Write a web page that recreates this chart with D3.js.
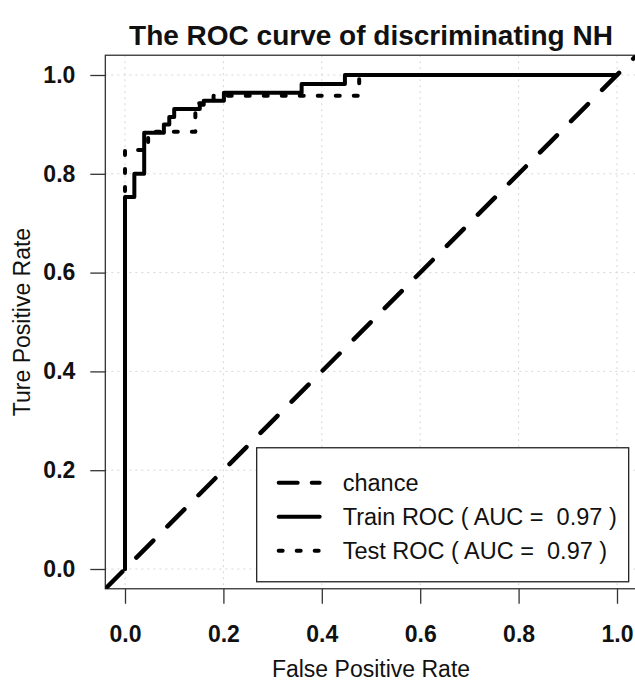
<!doctype html>
<html lang="en">
<head>
<meta charset="utf-8" />
<title>ROC curve</title>
<script src="https://cdn.jsdelivr.net/npm/d3@7"></script>
<style>
    html, body { margin: 0; background: #fff; }
    svg text { font-family: "Liberation Sans", Arial, sans-serif; fill: #111; }
</style>
</head>
<body>
<div id="chart"></div>
<script>
// ROC step corners (fpr, tpr)
const trainFPR = [0, 0, 0.019, 0.039, 0.079, 0.09, 0.1, 0.152, 0.16, 0.201, 0.359, 0.447, 1];
const trainTPR = [0, 0.753, 0.80, 0.883, 0.90, 0.915, 0.931, 0.94, 0.948, 0.964, 0.982, 1, 1];
const testFPR = [0, 0, 0.047, 0.143, 0.18, 0.476, 1];
const testTPR = [0, 0.848, 0.885, 0.943, 0.958, 1, 1];
const tickValues = [0, 0.2, 0.4, 0.6, 0.8, 1.0];
const tickLabels = ["0.0", "0.2", "0.4", "0.6", "0.8", "1.0"];
const legendLabels = ["chance", "Train ROC ( AUC =  0.97 )", "Test ROC ( AUC =  0.97 )"];

const width = 635, height = 683;
const lo = -0.04, hi = 1.04;

const x = d3.scaleLinear().domain([0, 1]).range([125, 617]);
const y = d3.scaleLinear().domain([0, 1]).range([569, 75]);

const svg = d3.select("#chart").append("svg")
    .attr("width", width)
    .attr("height", height);

const px0 = x(lo), px1 = x(hi), py0 = y(hi), py1 = y(lo);

svg.append("clipPath").attr("id", "plotclip")
  .append("rect")
    .attr("x", px0).attr("y", py0)
    .attr("width", px1 - px0).attr("height", py1 - py0);

// grid
const grid = svg.append("g")
    .attr("stroke", "#d6d6d6")
    .attr("stroke-width", 1)
    .attr("stroke-dasharray", "2,4");
grid.selectAll(".gx").data(tickValues).join("line")
    .attr("x1", d => x(d)).attr("x2", d => x(d))
    .attr("y1", py0).attr("y2", py1);
grid.selectAll(".gy").data(tickValues).join("line")
    .attr("y1", d => y(d)).attr("y2", d => y(d))
    .attr("x1", px0).attr("x2", px1);

// axes (R style: ticks outside, bold labels)
const xAxis = svg.append("g")
    .attr("transform", `translate(0,${py1})`)
    .call(d3.axisBottom(x).tickValues(tickValues).tickFormat((d, i) => tickLabels[i])
        .tickSize(15).tickPadding(22));
const yAxis = svg.append("g")
    .attr("transform", `translate(${px0},0)`)
    .call(d3.axisLeft(y).tickValues(tickValues).tickFormat((d, i) => tickLabels[i])
        .tickSize(15).tickPadding(15));
for (const ax of [xAxis, yAxis]) {
  ax.select(".domain").remove();
  ax.selectAll(".tick line").attr("stroke", "#333").attr("stroke-width", 1.3);
  ax.selectAll("text")
      .attr("font-size", 23)
      .attr("font-weight", "bold")
      .attr("fill", "#111")
      .style("font-family", "'Liberation Sans', Arial, sans-serif");
}
xAxis.selectAll("text").attr("dy", "0.71em");

// box
svg.append("rect")
    .attr("x", px0).attr("y", py0)
    .attr("width", px1 - px0).attr("height", py1 - py0)
    .attr("fill", "none")
    .attr("stroke", "#333")
    .attr("stroke-width", 1.3);

const plot = svg.append("g").attr("clip-path", "url(#plotclip)");

const line = d3.line()
    .x(d => x(d[0]))
    .y(d => y(d[1]))
    .curve(d3.curveStepAfter);

plot.append("path")
    .datum(d3.zip(trainFPR, trainTPR))
    .attr("d", line)
    .attr("fill", "none")
    .attr("stroke", "#000")
    .attr("stroke-width", 4)
    .attr("stroke-linejoin", "round")
    .attr("stroke-linecap", "round");

plot.append("path")
    .datum(d3.zip(testFPR, testTPR))
    .attr("d", line)
    .attr("fill", "none")
    .attr("stroke", "#000")
    .attr("stroke-width", 4)
    .attr("stroke-dasharray", "4,14")
    .attr("stroke-linejoin", "round")
    .attr("stroke-linecap", "round");

// chance diagonal
plot.append("line")
    .attr("x1", x(lo)).attr("y1", y(lo))
    .attr("x2", x(hi)).attr("y2", y(hi))
    .attr("stroke", "#000")
    .attr("stroke-width", 4.5)
    .attr("stroke-dasharray", "24,20")
    .attr("stroke-linecap", "round");

// legend
const lgRight = px1 - 8, lgBottom = py1 - 7;
const lgW = 372, lgH = 134;
const lg = svg.append("g").attr("transform", `translate(${lgRight - lgW},${lgBottom - lgH})`);
lg.append("rect")
    .attr("width", lgW).attr("height", lgH)
    .attr("fill", "#fff")
    .attr("stroke", "#222")
    .attr("stroke-width", 1.3);
const dashes = ["19,14", null, "4,14"];
legendLabels.forEach((label, i) => {
  const ly = 35 + i * 34;
  lg.append("line")
      .attr("x1", 22).attr("x2", 63)
      .attr("y1", ly).attr("y2", ly)
      .attr("stroke", "#000")
      .attr("stroke-width", 4)
      .attr("stroke-linecap", "round")
      .attr("stroke-dasharray", dashes[i]);
  lg.append("text")
      .attr("x", 86).attr("y", ly)
      .attr("dy", "0.35em")
      .attr("font-size", 23.5)
      .attr("xml:space", "preserve")
      .style("white-space", "pre")
      .text(label);
});

// titles
const cx = (px0 + px1) / 2;
svg.append("text")
    .attr("x", cx).attr("y", 45)
    .attr("text-anchor", "middle")
    .attr("font-size", 28)
    .attr("font-weight", "bold")
    .text("The ROC curve of discriminating NH");

svg.append("text")
    .attr("x", cx).attr("y", 677)
    .attr("text-anchor", "middle")
    .attr("font-size", 23)
    .text("False Positive Rate");

svg.append("text")
    .attr("transform", `translate(30,${(py0 + py1) / 2}) rotate(-90)`)
    .attr("text-anchor", "middle")
    .attr("font-size", 23)
    .text("Ture Positive Rate");
</script>
</body>
</html>
